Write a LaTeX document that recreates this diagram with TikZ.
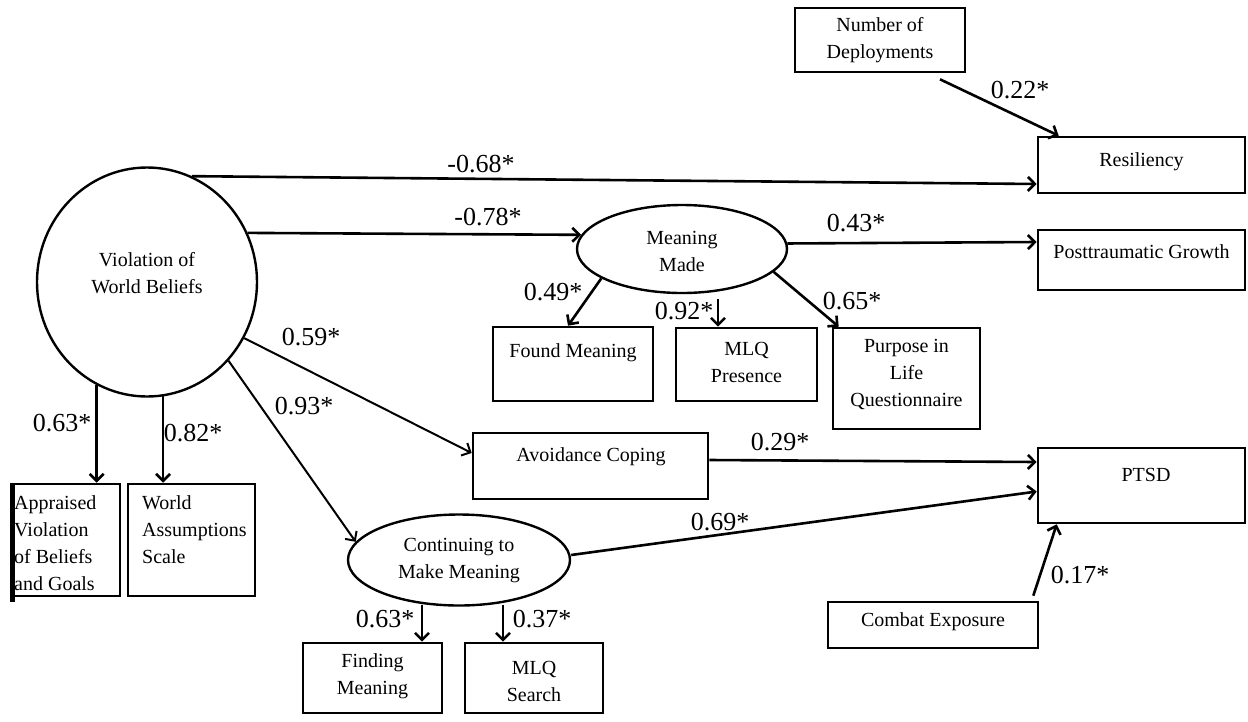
\documentclass[tikz,border=0pt]{standalone}
\usepackage{fontspec}
\setmainfont{Liberation Serif}
\usetikzlibrary{arrows.meta,shapes.geometric}
\begin{document}
\begin{tikzpicture}[x=1pt,y=-1pt,
 box/.style={draw, line width=2.6pt, rectangle, inner sep=0pt},
 oval/.style={draw, line width=2.4pt, ellipse, inner sep=0pt},
 txt/.style={font=\fontsize{20}{27}\selectfont, align=center, inner sep=0pt},
 lab/.style={font=\fontsize{26}{30}\selectfont, inner sep=0pt},
 conn/.style={line width=2.6pt, -{Straight Barb[length=7pt,width=14pt]}},
 thinconn/.style={line width=2pt, -{Straight Barb[length=7pt,width=14pt]}},
]
\useasboundingbox[fill=white] (0,0) rectangle (1248,721);

% latent variables
\node[oval, minimum width=220pt, minimum height=229pt] (vwb) at (147,282) {};
\node[txt] (vwbT) at (147,273) {Violation of\\World Beliefs};
\node[oval, minimum width=210pt, minimum height=88pt] (mm) at (682,249) {};
\node[txt] (mmT) at (682,251) {Meaning\\Made};
\node[oval, minimum width=222pt, minimum height=91pt] (cmm) at (459,560) {};
\node[txt] (cmmT) at (459,561) {Continuing to\\Make Meaning};

% boxes
\node[box, minimum width=170pt, minimum height=64pt] (nod) at (880,40) {};
\node[txt] (nodT) at (880,40) {Number of\\Deployments};
\node[box, minimum width=207pt, minimum height=56pt] (res) at (1141.5,165) {};
\node[txt] (resT) at (1141.5,162) {Resiliency};
\node[box, minimum width=207pt, minimum height=60pt] (ptg) at (1141.5,260) {};
\node[txt] (ptgT) at (1141.5,252) {Posttraumatic Growth};
\node[box, minimum width=160pt, minimum height=74pt] (fm) at (573,364) {};
\node[txt] (fmT) at (573,353) {Found Meaning};
\node[box, minimum width=141pt, minimum height=73pt] (mlqp) at (746.5,364.5) {};
\node[txt] (mlqpT) at (746.5,362) {MLQ\\Presence};
\node[box, minimum width=147pt, minimum height=101pt] (pil) at (906.5,378.5) {};
\node[txt] (pilT) at (906.5,374) {Purpose in\\Life\\Questionnaire};
\node[box, minimum width=235pt, minimum height=66pt] (ac) at (590.5,466) {};
\node[txt] (acT) at (591,457) {Avoidance Coping};
\node[box, minimum width=207pt, minimum height=75pt] (ptsd) at (1141.5,485.5) {};
\node[txt] (ptsdT) at (1146,475) {PTSD};
\node[box, minimum width=139pt, minimum height=70pt] (fim) at (372.5,678) {};
\node[txt] (fimT) at (372.5,676) {Finding\\Meaning};
\node[box, minimum width=138pt, minimum height=70pt] (mlqs) at (534,678) {};
\node[txt] (mlqsT) at (534,681) {MLQ\\Search};
\node[box, minimum width=210pt, minimum height=46pt] (ce) at (933,625) {};
\node[txt] (ceT) at (933,622) {Combat Exposure};

% left indicator boxes
\begin{scope}
\clip (13,484) rectangle (120,594);
\node[txt, anchor=west, align=left] (avbgT) at (14,543) {Appraised\\Violation\\of Beliefs\\and Goals};
\end{scope}
\node[box, minimum width=107pt, minimum height=112pt] (avbg) at (66.5,540) {};
\draw[line width=5pt] ([xshift=1pt]avbg.north west) -- ([xshift=1pt,yshift=-5pt]avbg.south west) coordinate (avbgL);
\node[box, minimum width=127pt, minimum height=112pt] (was) at (191.5,540) {};
\node[txt, anchor=west, align=left] (wasT) at (142,530) {World\\Assumptions\\Scale};

% connectors
\draw[conn] (vwb.67) -- ([yshift=-19pt]res.west);
\draw[conn] (vwb.26.6) -- (mm.172);
\draw[conn] (mm.3) -- ([yshift=18pt]ptg.west);
\draw[conn] (mm.200) -- ([xshift=-5pt]fm.north);
\coordinate (mlqpA) at ([xshift=-28.5pt]mlqp.north);
\draw[conn] ([yshift=-5pt]mm.south -| mlqpA) -- (mlqpA);
\draw[conn] (mm.346) -- ([xshift=7pt]pil.north west);
\draw[thinconn] (vwb.330) -- ([yshift=13pt]ac.west);
\draw[thinconn] (vwb.316) -- (cmm.170);
\draw[conn] ([yshift=6pt]ac.east) -- ([yshift=23.5pt]ptsd.west);
\draw[conn] ([yshift=5pt]cmm.east) -- ([yshift=-6pt]ptsd.west);
\coordinate (fimA) at ([xshift=49.5pt]fim.north);
\draw[conn] ([yshift=2pt]cmm.south -| fimA) -- (fimA);
\coordinate (mlqsA) at ([xshift=-31pt]mlqs.north);
\draw[conn] ([yshift=2pt]cmm.south -| mlqsA) -- (mlqsA);
\draw[conn] (vwb.244) -- (vwb.244 |- avbg.north);
\draw[conn] (vwb.278) -- (vwb.278 |- was.north);
\draw[conn] ([xshift=60pt,yshift=-6pt]nod.south) -- ([xshift=22pt]res.north west);
\draw[conn] ([xshift=-6pt,yshift=5pt]ce.north east) -- ([xshift=20pt]ptsd.south west);

% labels
\node[lab] (l1) at (481,164) {-0.68*};
\node[lab] (l2) at (488,217) {-0.78*};
\node[lab] (l3) at (856,223) {0.43*};
\node[lab] (l4) at (553,292) {0.49*};
\node[lab] (l5) at (684,311) {0.92*};
\node[lab] (l6) at (852,301) {0.65*};
\node[lab] (l7) at (311,337) {0.59*};
\node[lab] (l8) at (304,406) {0.93*};
\node[lab] (l9) at (62,423) {0.63*};
\node[lab] (l10) at (193,433) {0.82*};
\node[lab] (l11) at (780,442) {0.29*};
\node[lab] (l12) at (720,522) {0.69*};
\node[lab] (l13) at (385,619) {0.63*};
\node[lab] (l14) at (542,619) {0.37*};
\node[lab] (l15) at (1020,90) {0.22*};
\node[lab] (l16) at (1080,575) {0.17*};
\end{tikzpicture}
\end{document}
